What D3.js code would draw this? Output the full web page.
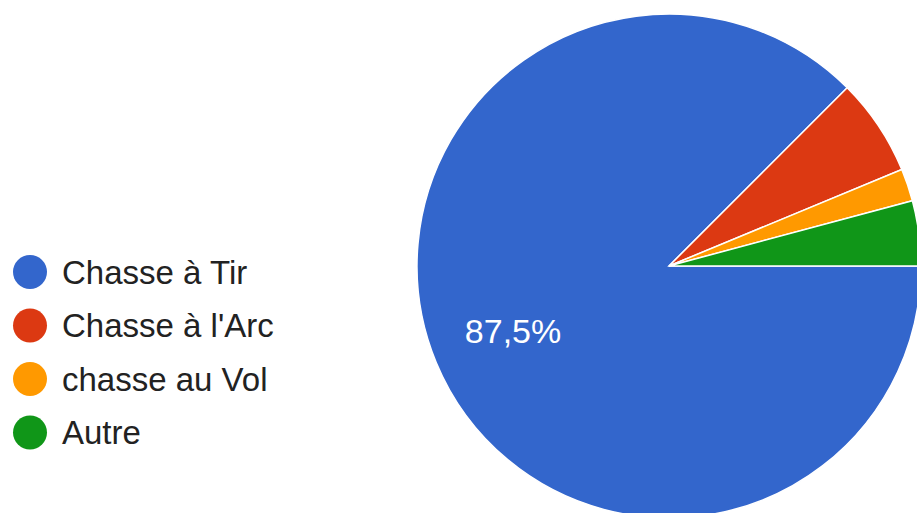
<!DOCTYPE html>
<html>
<head>
<meta charset="utf-8">
<script src="https://cdn.jsdelivr.net/npm/d3@7"></script>
<style>
  body { margin: 0; background: #fff; }
  svg { display: block; }
</style>
</head>
<body>
<div id="chart"></div>
<script>
// Data
const categories = ["Chasse à Tir", "Chasse à l'Arc", "chasse au Vol", "Autre"]
const counts = [42, 3, 1, 2]
const colors = ["#3366cc", "#dc3912", "#ff9900", "#109618"]

async function drawPieChart() {
  // Define Dimensions
    let dimensions = {
        width: 917,
        height: 513,
        cx: 669,
        cy: 266,
        radius: 252,
    }

  // Draw Canvas
    const svg = d3.select("#chart")
        .append("svg")
            .attr("width", dimensions.width)
            .attr("height", dimensions.height)

    const dataset = categories.map((c, i) => ({ name: c, value: counts[i], color: colors[i] }))
    const total = d3.sum(counts)

  // Pie starts at 3 o'clock and goes clockwise
    const pieGenerator = d3.pie()
        .sort(null)
        .value(d => d.value)
        .startAngle(Math.PI / 2)
        .endAngle(Math.PI / 2 + 2 * Math.PI)
    const arcs = pieGenerator(dataset)

    const arcGenerator = d3.arc()
        .innerRadius(0)
        .outerRadius(dimensions.radius)

    const labelArc = d3.arc()
        .innerRadius(dimensions.radius * 0.67)
        .outerRadius(dimensions.radius * 0.67)

    const pie = svg.append("g")
        .attr("transform", `translate(${dimensions.cx}, ${dimensions.cy})`)

    pie.selectAll("path")
        .data(arcs)
        .enter()
        .append("path")
            .attr("d", arcGenerator)
            .attr("fill", d => d.data.color)
            .attr("stroke", "#fff")
            .attr("stroke-width", 1.5)

  // Percent label (only big slices get one)
    pie.selectAll("text")
        .data(arcs.filter(d => d.data.value / total > 0.1))
        .enter()
        .append("text")
            .attr("transform", d => `translate(${labelArc.centroid(d)})`)
            .attr("text-anchor", "middle")
            .attr("dy", "0.35em")
            .attr("fill", "#fff")
            .style("font-family", "'Liberation Sans', Arial, sans-serif")
            .style("font-size", "34px")
            .text(d => (d.data.value / total * 100).toFixed(1).replace(".", ",") + "%")

  // Legend
    const legend = svg.append("g")
        .attr("transform", "translate(30, 272)")

    const item = legend.selectAll("g")
        .data(dataset)
        .enter()
        .append("g")
            .attr("transform", (d, i) => `translate(0, ${i * 53.5})`)

    item.append("circle")
        .attr("r", 17)
        .attr("fill", d => d.color)

    item.append("text")
        .attr("x", 32)
        .attr("dy", "0.35em")
        .attr("fill", "#222")
        .style("font-family", "'Liberation Sans', Arial, sans-serif")
        .style("font-size", "33px")
        .text(d => d.name)
}

drawPieChart()
</script>
</body>
</html>
